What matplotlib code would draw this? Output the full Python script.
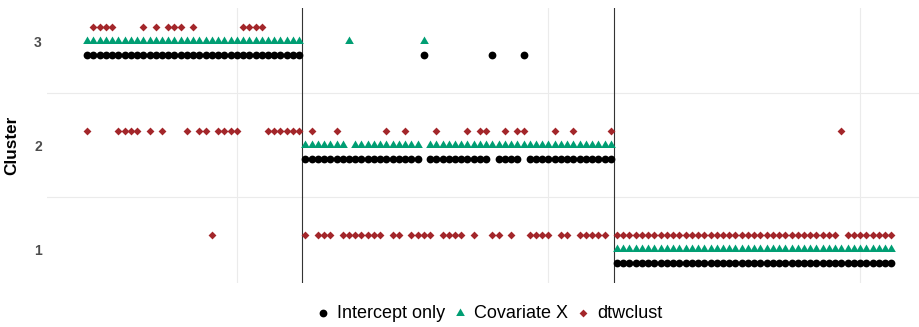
import matplotlib
matplotlib.use("Agg")
import matplotlib.pyplot as plt
import numpy as np

# cluster assignment per time series (x = 1..130)
intercept_only = [
    3, 3, 3, 3, 3, 3, 3, 3, 3, 3,
    3, 3, 3, 3, 3, 3, 3, 3, 3, 3,
    3, 3, 3, 3, 3, 3, 3, 3, 3, 3,
    3, 3, 3, 3, 3, 2, 2, 2, 2, 2,
    2, 2, 2, 2, 2, 2, 2, 2, 2, 2,
    2, 2, 2, 2, 3, 2, 2, 2, 2, 2,
    2, 2, 2, 2, 2, 3, 2, 2, 2, 2,
    3, 2, 2, 2, 2, 2, 2, 2, 2, 2,
    2, 2, 2, 2, 2, 1, 1, 1, 1, 1,
    1, 1, 1, 1, 1, 1, 1, 1, 1, 1,
    1, 1, 1, 1, 1, 1, 1, 1, 1, 1,
    1, 1, 1, 1, 1, 1, 1, 1, 1, 1,
    1, 1, 1, 1, 1, 1, 1, 1, 1, 1,
]
covariate_x = [
    3, 3, 3, 3, 3, 3, 3, 3, 3, 3,
    3, 3, 3, 3, 3, 3, 3, 3, 3, 3,
    3, 3, 3, 3, 3, 3, 3, 3, 3, 3,
    3, 3, 3, 3, 3, 2, 2, 2, 2, 2,
    2, 2, 3, 2, 2, 2, 2, 2, 2, 2,
    2, 2, 2, 2, 3, 2, 2, 2, 2, 2,
    2, 2, 2, 2, 2, 2, 2, 2, 2, 2,
    2, 2, 2, 2, 2, 2, 2, 2, 2, 2,
    2, 2, 2, 2, 2, 1, 1, 1, 1, 1,
    1, 1, 1, 1, 1, 1, 1, 1, 1, 1,
    1, 1, 1, 1, 1, 1, 1, 1, 1, 1,
    1, 1, 1, 1, 1, 1, 1, 1, 1, 1,
    1, 1, 1, 1, 1, 1, 1, 1, 1, 1,
]
dtwclust = [
    2, 3, 3, 3, 3, 2, 2, 2, 2, 3,
    2, 3, 2, 3, 3, 3, 2, 3, 2, 2,
    1, 2, 2, 2, 2, 3, 3, 3, 3, 2,
    2, 2, 2, 2, 2, 1, 2, 1, 1, 1,
    2, 1, 1, 1, 1, 1, 1, 1, 2, 1,
    1, 2, 1, 1, 1, 1, 2, 1, 1, 1,
    1, 2, 1, 2, 2, 1, 1, 2, 1, 2,
    2, 1, 1, 1, 1, 2, 1, 1, 2, 1,
    1, 1, 1, 1, 2, 1, 1, 1, 1, 1,
    1, 1, 1, 1, 1, 1, 1, 1, 1, 1,
    1, 1, 1, 1, 1, 1, 1, 1, 1, 1,
    1, 1, 1, 1, 1, 1, 1, 1, 1, 1,
    1, 2, 1, 1, 1, 1, 1, 1, 1, 1,
]
series_idx = np.arange(1, len(dtwclust) + 1)
boundaries = [35.5, 85.5]       # true group changes
y_ticks = [1, 2, 3]

plt.rcParams["font.family"] = ["Liberation Sans", "DejaVu Sans"]

W, H = 919, 327
fig = plt.figure(figsize=(W / 100, H / 100), dpi=100)
# panel is centred on the legend and runs past the right edge (cropped original)
left, right, top, bottom = 47, 931.5, 8, 283
ax = fig.add_axes([left / W, 1 - bottom / H, (right - left) / W, (bottom - top) / H])
ax.set_xlim(-5.45, 136.45)
ax.set_ylim(0.676, 3.32)

for gx in (25, 75, 125):
    ax.axvline(gx, color="#ebebeb", lw=0.8, zorder=0)
for gy in (1.5, 2.5):
    ax.axhline(gy, color="#ebebeb", lw=0.8, zorder=0)

# equilateral triangle centred on its centroid (like ggplot shape 17)
tri = [(0, 0.577), (-0.5, -0.289), (0.5, -0.289), (0, 0.577)]

ax.scatter(series_idx, np.array(intercept_only) - 0.13, marker="o", s=5.6 ** 2,
           color="black", linewidths=0, label="Intercept only", zorder=3)
ax.scatter(series_idx, np.array(covariate_x) + 0.0, marker=tri, s=7.2 ** 2,
           color="#009E73", linewidths=0, label="Covariate X", zorder=3)
ax.scatter(series_idx, np.array(dtwclust) + 0.135, marker="D", s=4.0 ** 2,
           color="#A3262A", linewidths=0, label="dtwclust", zorder=3)

for b in boundaries:
    ax.axvline(b, color="#333333", lw=0.8, zorder=2)

ax.set_yticks(y_ticks)
ax.set_yticklabels([str(v) for v in y_ticks], fontweight="bold", color="#4d4d4d", fontsize=10)
ax.set_xticks([])
ax.tick_params(axis="y", length=0, pad=3.8)
for sp in ax.spines.values():
    sp.set_visible(False)
ax.set_ylabel("Cluster", fontsize=12.3, fontweight="bold", labelpad=6)
ax.yaxis.set_label_coords(-(left - 18.8) / (right - left), 0.5)

fig.legend(loc="center", bbox_to_anchor=(490 / W, 1 - 313 / H), ncol=3, frameon=False,
           fontsize=13, handlelength=0.6, handletextpad=0.5, columnspacing=0.5,
           scatterpoints=1, borderaxespad=0)

fig.savefig("out.png", dpi=100)
